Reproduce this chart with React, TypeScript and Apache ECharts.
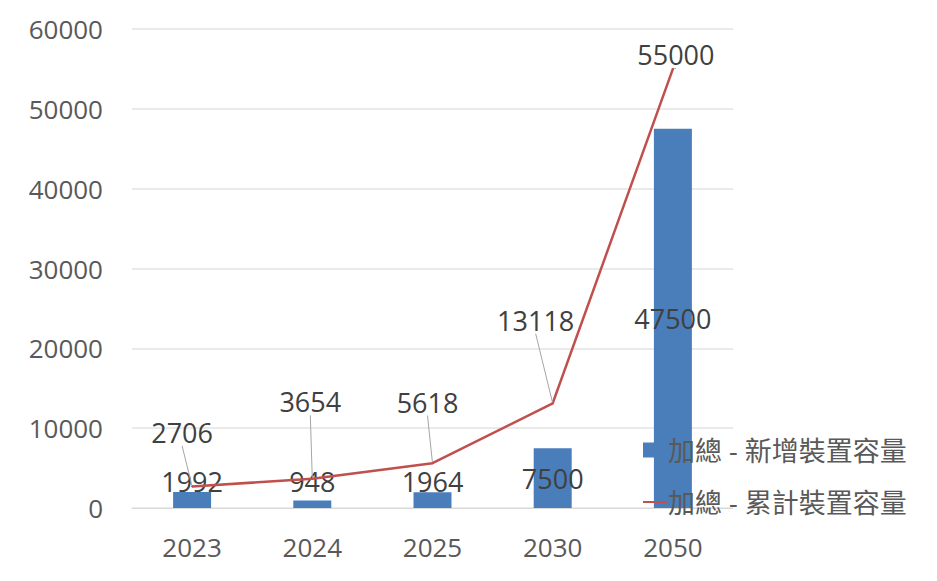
import React, { useEffect, useRef } from "react";
import * as echarts from "echarts";

const categories = ["2023", "2024", "2025", "2030", "2050"];
const newCapacity = [1992, 948, 1964, 7500, 47500];
const cumulativeCapacity = [2706, 3654, 5618, 13118, 55000];
const seriesNames = ["加總 - 新增裝置容量", "加總 - 累計裝置容量"];

// label offsets (px) of the cumulative line labels from their points
const lineLabelOffsets: [number, number][] = [
  [-10, -54],
  [-2, -77],
  [-5, -61],
  [-17, -83],
  [3, -14],
];

const FONT = "'Open Sans', 'Noto Sans CJK TC', sans-serif";
const TEXT = "#595959";

export default function App() {
  const ref = useRef<HTMLDivElement>(null);
  useEffect(() => {
    document.body.style.margin = "0";
    const chart = echarts.init(ref.current!, null, { renderer: "svg" });
    chart.setOption({
      animation: false,
      backgroundColor: "#ffffff",
      textStyle: { fontFamily: FONT },
      grid: { left: 132, right: 204, top: 29, bottom: 73, containLabel: false },
      legend: {
        orient: "vertical",
        left: 637,
        top: 430,
        itemWidth: 25,
        itemHeight: 15,
        itemGap: 22,
        textStyle: { fontSize: 27, color: TEXT, fontFamily: FONT, lineHeight: 30, padding: [0, 0, 0, -5] },
        data: [
          { name: seriesNames[0], icon: "rect" },
          { name: seriesNames[1], itemStyle: { opacity: 0 } },
        ],
      },
      xAxis: {
        type: "category",
        data: categories,
        axisLine: { show: true, lineStyle: { color: "#D9D9D9", width: 1 } },
        axisTick: { show: false },
        axisLabel: { fontSize: 26, color: TEXT, margin: 26, fontFamily: FONT },
      },
      yAxis: {
        type: "value",
        min: 0,
        max: 60000,
        interval: 10000,
        axisLine: { show: false },
        axisTick: { show: false },
        axisLabel: { fontSize: 26, color: TEXT, margin: 29, fontFamily: FONT, formatter: (v: number) => String(v) },
        splitLine: { lineStyle: { color: "#E3E3E3", width: 1.5 } },
      },
      series: [
        {
          name: seriesNames[0],
          type: "bar",
          data: newCapacity,
          barWidth: 38,
          itemStyle: { color: "#4A7EBB" },
          label: {
            show: true,
            position: "inside",
            fontSize: 27,
            color: "#404040",
            fontFamily: FONT,
          },
          labelLayout: (params: any) => {
            const r = params.rect;
            const bottom = r.y + r.height;
            const cy = Math.min(r.y + r.height / 2, bottom - 27);
            return { x: r.x + r.width / 2, y: cy, align: "center", verticalAlign: "middle" };
          },
          z: 2,
        },
        {
          name: seriesNames[1],
          type: "line",
          data: cumulativeCapacity,
          symbol: "circle",
          symbolSize: 2,
          itemStyle: { color: "#C0504D" },
          lineStyle: { color: "#C0504D", width: 2.5 },
          label: {
            show: true,
            position: "inside",
            fontSize: 27,
            color: "#404040",
            fontFamily: FONT,
          },
          labelLine: { show: true, lineStyle: { color: "#A6A6A6", width: 1 } },
          labelLayout: (params: any) => {
            const r = params.rect;
            const cx = r.x + r.width / 2;
            const cy = r.y + r.height / 2;
            const [dx, dy] = lineLabelOffsets[params.dataIndex];
            return { x: cx + dx, y: cy + dy, align: "center", verticalAlign: "middle" };
          },
          z: 3,
        },
      ],
    });
    return () => chart.dispose();
  }, []);
  return <div ref={ref} style={{ width: 937, height: 581 }} />;
}
